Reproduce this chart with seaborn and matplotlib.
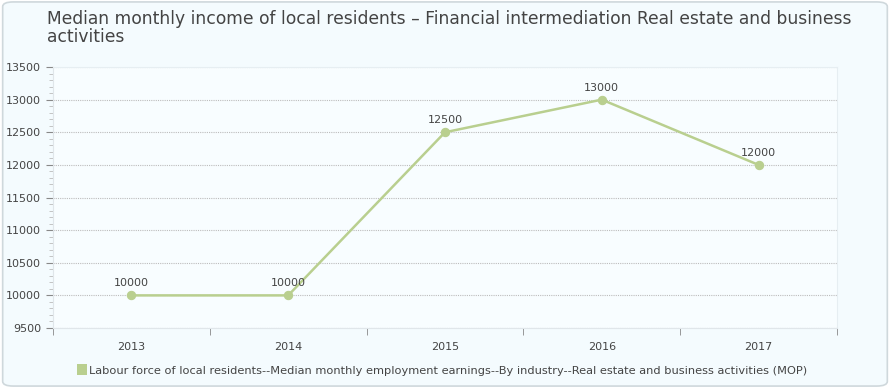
import seaborn as sns
import matplotlib.pyplot as plt
import pandas as pd
from matplotlib.patches import FancyBboxPatch, Rectangle
from matplotlib.ticker import MultipleLocator, FixedLocator

# Data
years = ['2013', '2014', '2015', '2016', '2017']
income = [10000, 10000, 12500, 13000, 12000]
series_name = 'Labour force of local residents--Median monthly employment earnings--By industry--Real estate and business activities (MOP)'
title = 'Median monthly income of local residents \u2013 Financial intermediation Real estate and business\nactivities'

df = pd.DataFrame({'year': years, 'income': income})

sns.set_style('white')
plt.rcParams['font.family'] = ['DejaVu Sans']

line_color = '#b9cf8f'
text_color = '#444444'

fig = plt.figure(figsize=(8.9, 3.88), dpi=100)
fig.patch.set_facecolor('white')
# rounded panel background
panel = FancyBboxPatch((0.003, 0.005), 0.994, 0.99, boxstyle='round,pad=0,rounding_size=0.012',
                       transform=fig.transFigure, facecolor='#f4fbfe', edgecolor='#cfd8dc',
                       linewidth=1.2, zorder=-10)
fig.patches.append(panel)

ax = fig.add_axes([0.0596, 0.1546, 0.8808, 0.6727])
ax.set_facecolor('#f8fdff')

sns.lineplot(data=df, x='year', y='income', ax=ax, color=line_color, linewidth=1.8,
             marker='o', markersize=6, markeredgecolor=line_color, sort=False)

for i, v in enumerate(income):
    ax.annotate(f'{v}', (i, v), textcoords='offset points', xytext=(0, 5),
                ha='center', va='bottom', fontsize=8, color=text_color)

ax.set_xlim(-0.5, len(years) - 0.5)
ax.set_ylim(9500, 13500)
ax.yaxis.set_major_locator(MultipleLocator(500))
ax.yaxis.set_minor_locator(MultipleLocator(100))
ax.xaxis.set_minor_locator(FixedLocator([i - 0.5 for i in range(len(years) + 1)]))
ax.grid(axis='y', which='major', linestyle=(0, (1, 1)), color='#bcbcbc', linewidth=0.8)

ax.tick_params(axis='x', which='major', length=0, labelsize=8, labelcolor=text_color, pad=10)
ax.tick_params(axis='x', which='minor', length=5, color='#888888', direction='out', bottom=True)
ax.tick_params(axis='y', which='major', length=5, color='#888888', labelsize=8, labelcolor=text_color, left=True)
ax.tick_params(axis='y', which='minor', length=3, color='#bbbbbb', left=True)
ax.set_xlabel('')
ax.set_ylabel('')

for side in ['top', 'right']:
    ax.spines[side].set_color('#e6eef2')
for side in ['left', 'bottom']:
    ax.spines[side].set_color('#e0e6ea')

fig.text(0.053, 0.975, title, ha='left', va='top', fontsize=12.3, color='#444444',
         linespacing=1.0)

# legend
fig.patches.append(Rectangle((0.0865, 0.033), 0.011, 0.028, transform=fig.transFigure,
                             facecolor=line_color, edgecolor='none'))
fig.text(0.1, 0.043, series_name, ha='left', va='center', fontsize=8.2, color=text_color)

fig.savefig('out.png', dpi=100, facecolor=fig.get_facecolor())
